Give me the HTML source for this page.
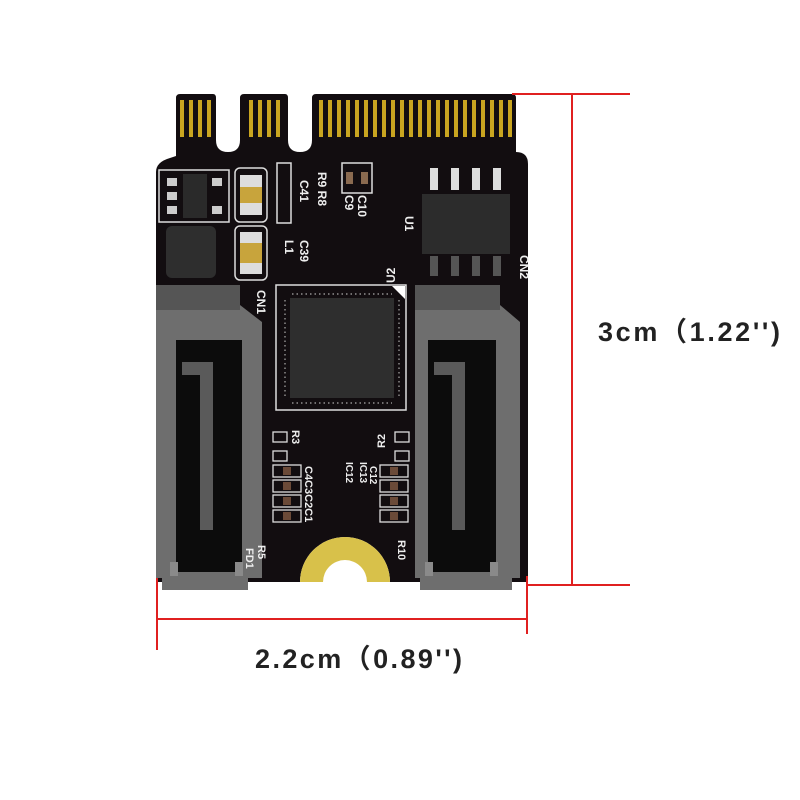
<!DOCTYPE html>
<html><head><meta charset="utf-8"><style>
html,body{margin:0;padding:0;background:#fff;width:800px;height:800px;overflow:hidden}
svg{display:block}
</style></head><body>
<svg width="800" height="800" viewBox="0 0 800 800" xmlns="http://www.w3.org/2000/svg" font-family="Liberation Sans, sans-serif">
<rect width="800" height="800" fill="#fff"/>
<text x="160" y="4" font-size="22" fill="#555" font-weight="bold" letter-spacing="6">▪ ▪ ▪ ▪ ▪ ▪ ▪ ▪ ▪ ▪ ▪ ▪ ▪ ▪</text>
<path d="M176 98 Q176 94 180 94 L213 94 Q216 94 216 98 L216 140 Q216 152 228 152 Q240 152 240 140 L240 98 Q240 94 244 94 L285 94 Q288 94 288 98 L288 140 Q288 152 300 152 Q312 152 312 140 L312 98 Q312 94 316 94 L512 94 Q516 94 516 98 L516 152 Q528 152 528 164 L528 582 L390 582 A45 45 0 0 0 300 582 L156 582 L156 172 Q156 162 170 158 L176 156 Z" fill="#120d10"/>
<g fill="#c9a520">
<rect x="180" y="100" width="4" height="37"/><rect x="189" y="100" width="4" height="37"/><rect x="198" y="100" width="4" height="37"/><rect x="207" y="100" width="4" height="37"/>
<rect x="249" y="100" width="4" height="37"/><rect x="258" y="100" width="4" height="37"/><rect x="267" y="100" width="4" height="37"/><rect x="276" y="100" width="4" height="37"/>
<rect x="319" y="100" width="4" height="37"/><rect x="328" y="100" width="4" height="37"/><rect x="337" y="100" width="4" height="37"/><rect x="346" y="100" width="4" height="37"/><rect x="355" y="100" width="4" height="37"/><rect x="364" y="100" width="4" height="37"/><rect x="373" y="100" width="4" height="37"/><rect x="382" y="100" width="4" height="37"/><rect x="391" y="100" width="4" height="37"/><rect x="400" y="100" width="4" height="37"/><rect x="409" y="100" width="4" height="37"/><rect x="418" y="100" width="4" height="37"/><rect x="427" y="100" width="4" height="37"/><rect x="436" y="100" width="4" height="37"/><rect x="445" y="100" width="4" height="37"/><rect x="454" y="100" width="4" height="37"/><rect x="463" y="100" width="4" height="37"/><rect x="472" y="100" width="4" height="37"/><rect x="481" y="100" width="4" height="37"/><rect x="490" y="100" width="4" height="37"/><rect x="499" y="100" width="4" height="37"/><rect x="508" y="100" width="4" height="37"/>
</g>
<rect x="159" y="170" width="70" height="52" fill="none" stroke="#ddd" stroke-width="1.5"/>
<rect x="183" y="174" width="24" height="44" fill="#2a2a2a"/>
<rect x="167" y="178" width="10" height="8" fill="#ccc"/><rect x="167" y="192" width="10" height="8" fill="#ccc"/><rect x="167" y="206" width="10" height="8" fill="#ccc"/><rect x="212" y="178" width="10" height="8" fill="#ccc"/><rect x="212" y="206" width="10" height="8" fill="#ccc"/>
<rect x="166" y="226" width="50" height="52" rx="6" fill="#2e2e2e"/>
<rect x="235" y="168" width="32" height="54" rx="5" fill="none" stroke="#ddd" stroke-width="1.5"/>
<rect x="240" y="175" width="22" height="40" rx="3" fill="#c8a43c"/><rect x="240" y="175" width="22" height="12" fill="#ddd"/><rect x="240" y="203" width="22" height="12" fill="#ddd"/>
<rect x="235" y="226" width="32" height="54" rx="5" fill="none" stroke="#ddd" stroke-width="1.5"/>
<rect x="240" y="232" width="22" height="42" rx="3" fill="#c8a43c"/><rect x="240" y="232" width="22" height="11" fill="#ddd"/><rect x="240" y="263" width="22" height="11" fill="#ddd"/>
<rect x="277" y="163" width="14" height="60" fill="none" stroke="#ddd" stroke-width="1.5"/>
<rect x="342" y="163" width="30" height="30" fill="none" stroke="#ddd" stroke-width="1.5"/>
<rect x="346" y="172" width="7" height="12" fill="#8a6a50"/><rect x="361" y="172" width="7" height="12" fill="#8a6a50"/>
<g fill="#eee" font-size="12" font-weight="bold">
<text transform="translate(318,172) rotate(90)">R9 R8</text>
<text transform="translate(300,180) rotate(90)">C41</text>
<text transform="translate(300,240) rotate(90)">C39</text>
<text transform="translate(285,240) rotate(90)">L1</text>
<text transform="translate(345,195) rotate(90)">C9</text>
<text transform="translate(358,195) rotate(90)">C10</text>
<text transform="translate(405,216) rotate(90)">U1</text>
<text transform="translate(520,255) rotate(90)">CN2</text>
<text transform="translate(395,283) rotate(-90)">U2</text>
<text transform="translate(257,290) rotate(90)">CN1</text>
</g>
<rect x="422" y="194" width="88" height="60" fill="#2c2c2c"/>
<g fill="#ddd"><rect x="430" y="168" width="8" height="22"/><rect x="451" y="168" width="8" height="22"/><rect x="472" y="168" width="8" height="22"/><rect x="493" y="168" width="8" height="22"/></g>
<g fill="#555"><rect x="430" y="256" width="8" height="20"/><rect x="451" y="256" width="8" height="20"/><rect x="472" y="256" width="8" height="20"/><rect x="493" y="256" width="8" height="20"/></g>
<rect x="276" y="285" width="130" height="125" fill="none" stroke="#ddd" stroke-width="1.5"/>
<path d="M392 286 L405 286 L405 299 Z" fill="#fff"/>
<rect x="290" y="298" width="104" height="100" fill="#2e2e2e"/>
<g stroke="#aaa" stroke-width="1.2" stroke-dasharray="1.5 3"><line x1="292" y1="294" x2="392" y2="294"/><line x1="292" y1="403" x2="392" y2="403"/><line x1="285" y1="300" x2="285" y2="396"/><line x1="399" y1="300" x2="399" y2="396"/></g>
<path d="M156 285 L240 285 L240 305 L262 322 L262 578 L248 578 L248 590 L162 590 L162 578 L156 578 Z" fill="#6e6e6e"/>
<rect x="156" y="285" width="84" height="25" fill="#555"/>
<rect x="176" y="340" width="66" height="232" fill="#0c0c0c"/>
<path d="M182 362 L213 362 L213 530 L200 530 L200 375 L182 375 Z" fill="#5a5a5a"/>
<rect x="170" y="562" width="8" height="14" fill="#8a8a8a"/><rect x="235" y="562" width="8" height="14" fill="#8a8a8a"/>
<path d="M415 285 L500 285 L500 305 L520 322 L520 578 L512 578 L512 590 L420 590 L420 578 L415 578 Z" fill="#6e6e6e"/>
<rect x="415" y="285" width="85" height="25" fill="#555"/>
<rect x="428" y="340" width="68" height="232" fill="#0c0c0c"/>
<path d="M434 362 L465 362 L465 530 L452 530 L452 375 L434 375 Z" fill="#5a5a5a"/>
<rect x="425" y="562" width="8" height="14" fill="#8a8a8a"/><rect x="490" y="562" width="8" height="14" fill="#8a8a8a"/>
<g fill="none" stroke="#ddd" stroke-width="1.3">
<rect x="273" y="432" width="14" height="10"/><rect x="273" y="451" width="14" height="10"/>
<rect x="395" y="432" width="14" height="10"/><rect x="395" y="451" width="14" height="10"/>
<rect x="273" y="465" width="28" height="12"/><rect x="273" y="480" width="28" height="12"/><rect x="273" y="495" width="28" height="12"/><rect x="273" y="510" width="28" height="12"/>
<rect x="380" y="465" width="28" height="12"/><rect x="380" y="480" width="28" height="12"/><rect x="380" y="495" width="28" height="12"/><rect x="380" y="510" width="28" height="12"/>
</g>
<g fill="#6b4a38"><rect x="283" y="467" width="8" height="8"/><rect x="283" y="482" width="8" height="8"/><rect x="283" y="497" width="8" height="8"/><rect x="283" y="512" width="8" height="8"/><rect x="390" y="467" width="8" height="8"/><rect x="390" y="482" width="8" height="8"/><rect x="390" y="497" width="8" height="8"/><rect x="390" y="512" width="8" height="8"/></g>
<g fill="#eee" font-size="11" font-weight="bold">
<text transform="translate(292,430) rotate(90)">R3</text>
<text transform="translate(385,448) rotate(-90)">R2</text>
<text transform="translate(305,466) rotate(90)">C4C3C2C1</text>
<text transform="translate(258,545) rotate(90)">R5</text>
<text transform="translate(246,548) rotate(90)">FD1</text>
<text transform="translate(398,540) rotate(90)">R10</text>
</g>
<g fill="#eee" font-size="10" font-weight="bold">
<text transform="translate(346,462) rotate(90)">IC12</text><text transform="translate(360,462) rotate(90)">IC13</text><text transform="translate(370,466) rotate(90)">C12</text>
</g>
<path d="M300 582 A45 45 0 0 1 390 582 L367 582 A22 22 0 0 0 323 582 Z" fill="#d8c14a"/>
<g stroke="#e02020" stroke-width="2" fill="none">
<line x1="512" y1="94" x2="630" y2="94"/>
<line x1="526" y1="585" x2="630" y2="585"/>
<line x1="572" y1="94" x2="572" y2="585"/>
<line x1="157" y1="578" x2="157" y2="650"/>
<line x1="527" y1="576" x2="527" y2="634"/>
<line x1="157" y1="619" x2="527" y2="619"/>
</g>
<g fill="#222" font-size="27" font-weight="bold" font-family="Liberation Sans, 'Noto Sans CJK SC', sans-serif">
<text x="598" y="341" textLength="182" lengthAdjust="spacing">3cm（1.22'')</text>
<text x="255" y="668" textLength="207" lengthAdjust="spacing">2.2cm（0.89'')</text>
</g>
</svg>
</body></html>
